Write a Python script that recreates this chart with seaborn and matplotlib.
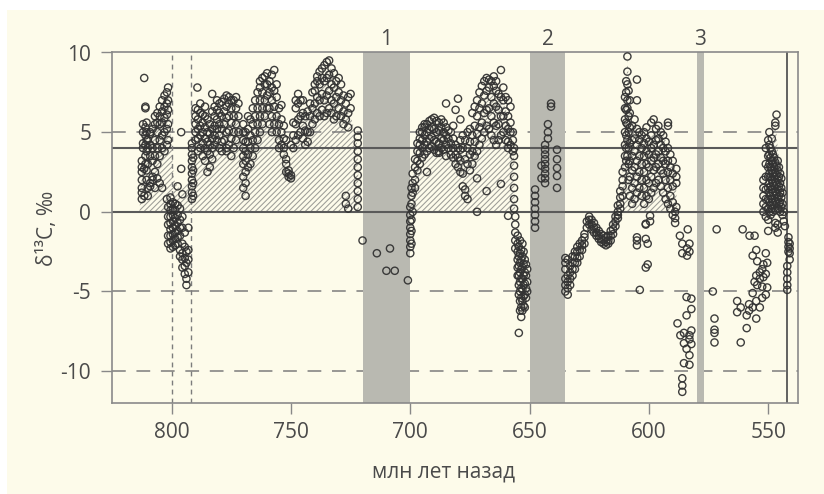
import numpy as np
import pandas as pd
import matplotlib
matplotlib.use("Agg")
import matplotlib.pyplot as plt
import matplotlib.transforms as mtransforms
from matplotlib.patches import Rectangle
import seaborn as sns

# d13C (permil), grouped as (age in Myr ago, [values])
seg_812_801 = [
    (812.5, [0.8, 1.2, 1.5, 2.0, 2.5, 2.8, 3.2]),
    (812.0, [4.0, 4.3, 5.0, 5.5]),
    (811.5, [8.4, 2.7, 1.0]),
    (811.0, [3.0, 3.5, 4.2, 4.8, 5.3, 6.5, 6.6]),
    (810.5, [2.0, 2.6, 3.8, 4.5, 5.0, 5.6]),
    (810.0, [1.0, 1.5, 3.0, 4.0, 4.5]),
    (809.0, [1.6, 1.8, 3.5, 4.2, 4.9, 5.0]),
    (808.0, [2.0, 2.2, 3.2, 4.0, 5.2]),
    (807.0, [1.5, 2.5, 3.5, 4.5, 5.5, 6.0]),
    (806.0, [2.1, 3.0, 4.0, 5.0, 5.6, 6.2]),
    (805.0, [1.8, 3.5, 4.5, 5.5, 6.0, 6.6]),
    (804.0, [1.5, 4.0, 4.8, 5.6, 6.3, 7.0]),
    (803.0, [3.8, 5.0, 5.9, 6.6, 7.3]),
    (802.0, [0.8, 4.2, 5.2, 6.1, 6.8, 7.5]),
    (801.5, [4.5, 5.5, 6.4, 7.0, 7.8]),
]
seg_801_791 = [
    (801.5, [0.3, -0.3, -0.8, -1.5, -2.0]),
    (800.5, [0.9, 0.5, 0.1, -0.3, -0.7, -1.1, -1.5, -1.9, -2.3]),
    (799.5, [0.6, 0.2, -0.2, -0.6, -1.0, -1.4, -1.8, -2.2]),
    (798.5, [0.5, 0.1, -0.4, -0.9, -1.3, -1.7, -2.1]),
    (797.5, [0.4, -0.2, -0.7, -1.2, -1.6, -2.0, 1.6]),
    (796.5, [0.2, -0.5, -1.0, -1.5, -2.4, -2.8]),
    (796.0, [5.0, 2.7]),
    (795.5, [1.1, -0.3, -1.0, -2.0, -2.6, -3.0, -3.5]),
    (794.5, [-1.3, -2.2, -2.9, -3.4, -3.9]),
    (793.8, [-2.5, -3.2, -4.2, -4.6]),
    (793.0, [-1.0, -2.4, -3.0, -3.8]),
    (791.5, [0.8, 1.2, 1.6, 2.0, 2.4, 2.8, 3.2, 3.6, 4.0, 4.3]),
    (791.0, [1.0, 1.8, 2.6, 3.4]),
]
seg_790_760 = [
    (790.0, [4.5, 5.0, 5.5, 6.0, 6.5]),
    (789.2, [7.8]),
    (789.0, [3.8, 4.6, 5.2, 5.8, 6.4]),
    (788.0, [4.0, 4.8, 5.4, 6.2, 6.8]),
    (787.0, [3.5, 4.3, 5.0, 5.6, 6.1]),
    (786.0, [3.2, 4.0, 4.6, 5.3, 6.0, 6.6]),
    (785.0, [2.5, 3.8, 4.4, 5.0, 5.8]),
    (784.0, [2.8, 3.6, 4.2, 4.9, 5.5]),
    (783.0, [3.3, 4.0, 4.6, 5.2, 6.3, 7.4]),
    (782.0, [4.2, 4.8, 5.4, 6.0, 6.6]),
    (781.0, [4.5, 5.2, 5.8, 6.4, 7.0]),
    (780.0, [4.0, 4.8, 5.5, 6.2, 6.8]),
    (779.0, [3.8, 4.4, 5.2, 6.0, 6.9]),
    (778.0, [4.5, 5.5, 6.3, 7.1]),
    (777.0, [3.8, 4.0, 5.0, 5.9, 6.6, 7.3]),
    (776.0, [4.2, 5.1, 6.0, 6.8, 7.2]),
    (775.0, [3.5, 4.6, 5.6, 6.5, 7.0]),
    (774.0, [4.0, 5.0, 6.0, 7.0]),
    (773.0, [4.5, 5.5, 6.5, 7.2]),
    (772.0, [5.0, 6.0, 6.8]),
    (770.0, [1.5, 2.2, 3.0, 3.5, 4.0, 4.5, 5.0, 5.5]),
    (769.0, [1.0, 1.8, 2.5, 3.2, 3.8, 4.4, 5.0]),
    (768.0, [2.8, 3.6, 4.4, 5.2, 6.0]),
    (767.0, [3.0, 4.0, 4.8, 5.8]),
    (766.0, [3.5, 4.5, 5.5, 6.5]),
    (765.0, [4.0, 5.0, 6.0, 7.0]),
    (764.0, [4.5, 5.5, 6.5, 7.5]),
    (763.0, [5.0, 6.0, 7.0, 7.8, 8.2]),
    (762.0, [5.5, 6.5, 7.5, 8.4]),
    (761.0, [6.0, 7.0, 8.0, 8.5]),
    (760.0, [6.5, 7.3, 8.0, 8.7]),
]
seg_760_722 = [
    (759.0, [5.5, 6.5, 7.5, 8.2]),
    (758.0, [5.0, 6.0, 7.0, 7.8, 8.6]),
    (757.0, [5.5, 6.6, 7.6, 8.9]),
    (756.0, [5.0, 6.0, 7.2, 8.0]),
    (755.0, [4.0, 4.5, 5.5, 6.5]),
    (754.0, [4.2, 5.0, 5.8, 6.7]),
    (753.0, [3.6, 4.0, 4.6, 5.4]),
    (752.0, [2.5, 3.0, 3.3, 4.5]),
    (751.0, [2.2, 2.4, 2.6]),
    (750.0, [2.1, 2.3, 4.2]),
    (749.0, [4.0, 4.8, 5.6]),
    (748.0, [4.5, 5.5, 6.5, 7.0]),
    (747.0, [4.8, 5.8, 6.8, 7.4]),
    (746.0, [5.0, 6.0, 7.0]),
    (745.0, [4.6, 5.4, 6.2, 7.0]),
    (744.0, [4.2, 5.1, 6.0]),
    (743.0, [4.4, 5.0, 6.3]),
    (742.0, [5.0, 6.0, 6.8]),
    (741.0, [5.5, 6.5, 7.5]),
    (740.0, [5.8, 6.8, 7.6, 8.0]),
    (739.0, [6.2, 7.2, 8.2, 8.5]),
    (738.0, [6.0, 7.0, 8.0, 8.8]),
    (737.0, [6.4, 7.4, 8.4, 9.0]),
    (736.0, [6.0, 7.0, 8.2, 9.2]),
    (735.0, [6.2, 7.3, 8.4, 9.4]),
    (734.0, [6.5, 7.6, 8.6, 9.5]),
    (733.0, [6.2, 7.0, 8.0, 9.0]),
    (732.0, [5.8, 6.8, 7.8, 8.7]),
    (731.0, [6.0, 7.2, 8.2]),
    (730.0, [6.5, 7.5, 8.4]),
    (729.0, [6.0, 7.0, 8.0]),
    (728.0, [5.5, 6.3, 7.3]),
    (727.0, [0.5, 1.0, 5.8, 6.8]),
    (726.0, [0.2, 5.3, 6.2, 7.2]),
    (725.0, [6.5, 7.4]),
    (722.0, [0.3, 0.8, 1.3, 1.8, 2.3, 2.8, 3.3, 3.8, 4.3, 4.7, 5.1]),
]
seg_glacial_1 = [
    (720.0, [-1.8]), (714.0, [-2.6]), (708.5, [-2.3]),
    (710.0, [-3.7]), (706.5, [-3.7]), (701.0, [-4.3]),
]
seg_700_651 = [
    (700.0, [0.3, -0.2, -0.6, -1.0, -1.4, -1.8, -2.2, -2.6]),
    (699.5, [0.5, 1.0, 1.5, -0.5, -1.2, -2.0]),
    (699.0, [0.0, 1.2, 1.8, 2.4]),
    (698.0, [1.5, 2.0, 2.8, 3.3]),
    (697.0, [2.6, 3.2, 3.8, 4.3]),
    (696.0, [3.0, 3.7, 4.2, 4.6, 5.0]),
    (695.0, [3.4, 4.0, 4.5, 5.0, 5.3]),
    (694.0, [3.6, 4.2, 4.8, 5.3, 5.5]),
    (693.0, [2.5, 3.8, 4.4, 5.0, 5.5]),
    (692.0, [4.0, 4.6, 5.2, 5.7]),
    (691.0, [4.1, 4.7, 5.3, 5.8]),
    (690.0, [3.9, 4.5, 5.2, 5.9]),
    (689.0, [3.7, 4.4, 5.0, 5.7]),
    (688.0, [3.7, 3.8, 4.3, 5.1, 5.6]),
    (687.0, [4.0, 4.6, 5.3, 5.8]),
    (686.0, [3.9, 4.5, 5.0, 5.6]),
    (685.0, [3.5, 4.2, 4.8, 5.3, 6.8]),
    (684.0, [4.0, 4.6, 5.1]),
    (683.0, [3.6, 4.3, 5.0]),
    (682.0, [3.4, 4.0, 4.6, 5.4]),
    (681.0, [3.0, 3.6, 4.2, 6.4]),
    (680.0, [2.8, 3.4, 4.0, 7.1]),
    (679.0, [2.5, 3.2, 3.9, 4.5, 5.8]),
    (678.0, [1.6, 2.4, 4.0, 4.8]),
    (677.0, [1.0, 1.4, 3.3, 4.5]),
    (676.0, [0.8, 3.0, 4.0, 5.0]),
    (675.0, [2.6, 3.6, 4.4, 5.2]),
    (674.0, [3.0, 3.8, 4.8, 6.2]),
    (673.0, [3.5, 4.4, 5.4, 6.6]),
    (672.0, [0.0, 2.1, 3.8, 4.9, 6.0, 7.0]),
    (671.0, [4.2, 5.3, 6.5, 7.5]),
    (670.0, [4.6, 5.6, 6.8, 7.9]),
    (669.0, [5.0, 6.2, 7.3, 8.2]),
    (668.0, [1.3, 5.4, 6.4, 7.6, 8.4]),
    (667.0, [5.2, 6.5, 7.8, 8.3]),
    (666.0, [4.8, 6.0, 7.2, 8.2]),
    (665.0, [4.5, 5.6, 6.8, 7.9, 8.5]),
    (664.0, [4.2, 5.4, 6.6, 7.6, 8.2]),
    (663.0, [4.5, 5.5, 6.4, 7.4]),
    (662.0, [1.75, 4.8, 6.0, 7.2, 8.9]),
    (661.0, [5.0, 6.0, 7.0, 7.8]),
    (660.0, [4.5, 5.4, 6.3, 7.2]),
    (659.0, [-0.25, 4.0, 4.4, 5.2, 6.0, 7.0]),
    (658.0, [4.2, 5.0, 5.6, 6.6]),
    (657.0, [3.8, 4.5, 5.0]),
    (656.5, [0.2, 0.8, 1.5, 2.2, 2.9, 3.5, 4.0]),
    (656.0, [-0.3, -0.8, -1.3, -1.8, -2.3]),
    (655.0, [-1.5, -2.0, -2.5, -3.0, -3.5, -4.0]),
    (654.5, [-2.2, -2.8, -3.4, -4.0, -4.6, -5.2, -7.6]),
    (654.0, [-1.8, -2.6, -3.2, -3.8, -4.4, -5.0, -5.6, -6.2]),
    (653.5, [-2.4, -3.0, -3.6, -4.2, -4.8, -5.4, -6.0, -6.6]),
    (653.0, [-2.0, -2.8, -3.5, -4.2, -4.9, -5.6, -6.2]),
    (652.5, [-2.5, -3.3, -4.0, -4.6, -5.3, -5.9]),
    (652.0, [-3.0, -3.8, -4.5, -5.2, -6.0]),
    (651.5, [-3.3, -4.0, -4.8, -5.4]),
    (651.0, [-3.6, -4.4, -5.0]),
]
seg_glacial_2 = [
    (647.7, [1.4, 1.0, 0.6, 0.2, -0.2, -0.6, -1.0]),
    (645.0, [2.9, 2.1]),
    (643.5, [4.2, 3.9, 3.6, 3.3, 3.0, 2.7, 2.4, 2.1, 1.8]),
    (642.3, [5.5, 5.0, 4.6]),
    (641.0, [6.8, 6.6]),
    (638.5, [3.9, 3.3, 2.75, 2.25, 1.5]),
]
seg_635_612 = [
    (635.0, [-5.0, -4.6, -4.2, -3.6, -3.2, -2.9]),
    (634.0, [-5.2, -4.8, -4.4, -4.0, -3.0]),
    (633.0, [-4.6, -4.2, -3.8, -3.4]),
    (632.0, [-4.0, -3.6, -3.2, -2.8]),
    (631.0, [-3.6, -3.2, -2.8, -2.5]),
    (630.0, [-3.2, -2.9, -2.5, -2.2]),
    (629.0, [-2.8, -2.4, -2.0]),
    (628.0, [-2.4, -2.1, -1.8]),
    (627.0, [-2.0, -1.6, -1.4]),
    (626.0, [-0.6, -1.0]),
    (625.0, [-0.3, -0.5, -0.8]),
    (624.0, [-0.5, -0.8, -1.1]),
    (623.0, [-0.7, -1.0, -1.3]),
    (622.0, [-1.0, -1.3, -1.5]),
    (621.0, [-1.2, -1.5, -1.7]),
    (620.0, [-1.4, -1.7, -1.9]),
    (619.0, [-1.5, -1.8, -2.0]),
    (618.0, [-1.6, -1.9, -2.1]),
    (617.0, [-1.5, -1.8, -2.0]),
    (616.0, [-1.2, -1.5, -1.8]),
    (615.0, [-0.8, -1.1, -1.4]),
    (614.0, [-0.3, -0.6, -0.9]),
    (613.0, [0.0, 0.4, -0.4, -0.2]),
    (612.0, [0.2, 0.5, 0.9, 1.3]),
]
seg_611_588 = [
    (611.0, [1.0, 1.6, 2.0, 2.5]),
    (610.0, [2.8, 3.5, 4.2, 5.0, 5.8, 6.5, 7.2]),
    (609.5, [3.2, 4.0, 4.8, 5.6, 6.4, 7.5, 8.2]),
    (609.0, [3.5, 4.5, 5.5, 6.5, 7.0, 8.0, 8.8, 9.75]),
    (608.5, [2.0, 3.0, 4.0, 5.0, 6.0, 7.6]),
    (608.0, [1.0, 2.2, 3.2, 4.3, 5.3, 6.2, 7.0]),
    (607.0, [0.5, 1.5, 2.6, 3.5, 4.5, 5.4]),
    (606.0, [0.8, 1.8, 2.8, 3.8, 4.6, 5.8]),
    (605.0, [1.2, 2.2, 3.2, 4.2, 5.2, 7.0, 8.3]),
    (604.0, [1.5, 2.5, 3.5, 4.5, 5.0]),
    (603.0, [1.0, 2.0, 3.0, 4.0, 4.8]),
    (602.0, [0.5, 1.5, 2.5, 3.5, 4.3, 5.0]),
    (601.0, [1.0, 2.0, 3.0, 3.8, 4.6, 5.3]),
    (600.0, [0.8, 1.8, 2.8, 3.6, 4.4]),
    (599.0, [1.2, 2.2, 3.2, 4.0, 4.8, 5.6]),
    (598.0, [1.5, 2.6, 3.4, 4.2, 5.8]),
    (597.0, [1.8, 2.8, 3.6, 4.5, 5.2]),
    (596.0, [2.0, 3.0, 3.8, 4.6, 5.4]),
    (595.0, [1.6, 2.6, 3.4, 4.2, 5.0]),
    (594.0, [1.2, 2.4, 3.2, 4.0, 4.8]),
    (593.0, [0.8, 2.0, 3.0, 3.8, 4.4]),
    (592.0, [0.5, 1.5, 2.5, 3.2, 4.0, 5.4, 5.6]),
    (591.0, [0.2, 1.0, 2.0, 2.8, 3.6]),
    (590.0, [-0.2, 0.6, 1.6, 2.4, 3.2]),
    (588.5, [0.3, 1.8, 2.2, 2.7]),
    # scattered low values between the two maxima
    (605.0, [-1.6, -1.8, -2.1]),
    (603.8, [-4.9]),
    (601.3, [-0.75, -0.8, -1.7, -3.5]),
    (600.5, [-2.0, -3.3]),
    (599.5, [-0.25, -0.6]),
    (589.0, [0.0, -0.4, -0.7]),
    (587.0, [-1.5]),
    (586.0, [-2.0, -2.6]),
    (584.0, [-2.3, -2.75]),
    (583.7, [-1.1]),
    (583.0, [-2.0, -2.5]),
]
seg_588_581 = [
    (588.0, [-7.0]),
    (586.8, [-7.75]),
    (586.0, [-10.45, -10.9, -11.3]),
    (585.3, [-7.6, -8.25, -9.5]),
    (584.2, [-5.35, -6.5, -8.6]),
    (583.0, [-7.75, -8.0, -9.0, -9.6]),
    (582.2, [-5.45, -6.1, -7.45, -8.3]),
]
seg_575_550 = [
    (573.2, [-5.0]),
    (572.5, [-6.7, -7.4, -7.6, -8.2]),
    (571.6, [-1.1]),
    (563.0, [-5.6, -6.3]),
    (561.5, [-6.0, -8.2]),
    (560.7, [-1.1]),
    (559.0, [-6.5, -7.3]),
    (558.0, [-5.8, -6.2]),
    (557.8, [-1.5]),
    (556.5, [-2.75, -5.1, -6.0]),
    (555.7, [-1.5, -4.4]),
    (555.0, [-2.4, -4.0, -5.6, -6.7]),
    (554.6, [-3.1, -4.6]),
    (553.5, [-3.8, -4.2, -6.0]),
    (552.5, [-3.6, -4.7, -5.4]),
    (552.0, [-3.3, -4.1]),
    (551.0, [-2.6, -3.9, -5.2]),
    (550.4, [-3.2, -4.75]),
]
seg_552_540 = [
    (552.0, [0.0, 0.5, 1.0, 1.5, 2.0]),
    (551.0, [-0.3, 0.3, 0.8, 1.4, 2.2, 3.0, 4.0]),
    (550.0, [-1.2, -0.5, 0.2, 0.8, 1.5, 2.2, 2.8, 3.5, 4.5]),
    (549.5, [0.0, 0.6, 1.2, 1.8, 2.4, 3.0, 3.6, 4.2, 5.0]),
    (549.0, [-0.2, 0.4, 1.0, 1.6, 2.2, 2.8, 3.4, 4.0]),
    (548.5, [0.2, 0.8, 1.4, 2.0, 2.6, 3.2, 3.8, 4.6]),
    (548.0, [0.0, 0.6, 1.2, 1.8, 2.4, 3.0, 3.6]),
    (547.5, [0.4, 1.0, 1.6, 2.2, 2.8, 3.4]),
    (547.0, [-1.0, -0.7, 0.1, 0.7, 1.3, 1.9, 2.5, 3.1, 5.4, 5.6]),
    (546.5, [0.5, 1.1, 1.7, 2.3, 2.9, 6.1]),
    (546.0, [-1.3, -0.8, 0.2, 0.8, 1.4, 2.0, 2.6, 3.2]),
    (545.5, [0.5, 1.0, 1.6, 2.2, 2.8]),
    (545.0, [0.0, 0.6, 1.2, 1.8, 2.4]),
    (544.5, [0.3, 0.9, 1.5, 2.1]),
    (544.0, [-0.2, 0.5, 1.2]),
    (543.5, [-0.6, 0.0]),
    (543.0, [-0.9]),
    (542.0, [-3.4, -3.8, -4.2, -4.6, -4.9]),
    (541.5, [-1.6, -1.9, -2.2, -2.5]),
    (541.0, [-2.0, -2.3, -2.6, -3.0]),
]

# upper edge of the hatched (positive) areas
hatch_1_age = [813.5, 812.5, 811, 809, 807, 805, 803, 801.5, 800.5, 799, 797, 795,
               793, 792, 790, 788, 785, 782, 779, 776, 773, 770, 768, 765, 762, 759,
               757, 755, 753, 751, 749, 747, 745, 742, 739, 736, 734, 732, 730, 727,
               725, 723, 722, 721.5]
hatch_1_top = [0, 2.5, 4.0, 4.5, 5.0, 5.5, 6.5, 7.5, 5.0, 2.0, 1.5, 1.5,
               2.0, 3.5, 5.0, 5.2, 5.0, 5.5, 5.8, 6.0, 6.5, 5.0, 4.0, 5.5, 6.8, 7.6,
               8.0, 6.0, 4.5, 2.5, 4.5, 6.0, 6.2, 6.0, 7.5, 8.5, 9.2, 8.5, 7.5, 6.5,
               6.0, 5.0, 4.0, 0]
hatch_2_age = [700.5, 699.5, 698, 696, 694, 692, 690, 688, 686, 684, 682, 680, 678,
               676, 674, 672, 670, 668, 666, 664, 662, 660, 658, 656.5, 656]
hatch_2_top = [0, 1.5, 2.8, 3.8, 4.5, 5.0, 5.2, 5.2, 5.3, 5.0, 4.6, 4.0, 3.5,
               3.8, 4.8, 5.5, 6.5, 7.5, 7.8, 7.6, 7.0, 6.5, 5.0, 3.5, 0]
hatch_3_age = [612, 611, 610, 609, 608, 607, 605, 603, 601, 599, 597, 595, 593, 591, 589, 588]
hatch_3_top = [0, 2.5, 6.0, 9.6, 7.5, 6.0, 5.0, 4.5, 4.5, 4.8, 5.0, 5.0, 4.5, 3.5, 2.5, 0]
hatch_4_age = [550.5, 549.5, 548, 547, 546, 545, 543.5, 543]
hatch_4_top = [0, 3.5, 5.0, 5.8, 4.0, 3.0, 2.0, 0]

glacial_bands = [(720, 700), (650, 635), (580, 577)]
band_labels = ['1', '2', '3']
dashed_levels = [5, -5, -10]
solid_levels = [0, 4]
dotted_ages = [800, 792]
boundary_age = 542
x_ticks = [800, 750, 700, 650, 600, 550]
y_ticks = [10, 5, 0, -5, -10]

segments = [seg_812_801, seg_801_791, seg_790_760, seg_760_722, seg_glacial_1,
            seg_700_651, seg_glacial_2, seg_635_612, seg_611_588, seg_588_581,
            seg_575_550, seg_552_540]
rows = [(age, v) for seg in segments for age, vals in seg for v in vals]
df = pd.DataFrame(rows, columns=['age', 'd13c'])

sns.set_style("ticks")
plt.rcParams['font.family'] = ['Open Sans', 'DejaVu Sans']
plt.rcParams['hatch.linewidth'] = 0.75

CREAM = '#fdfbea'
BAND = '#b9b9b1'
TEXT = '#4a4a4a'

fig = plt.figure(figsize=(8.24, 4.94), dpi=100)
fig.patch.set_facecolor('white')
fig.patches.append(Rectangle((7 / 824, 0), 1, 1 - 10 / 494, transform=fig.transFigure,
                             facecolor=CREAM, edgecolor='none', zorder=-10))
ax = fig.add_axes([112 / 824, 1 - 403 / 494, 686 / 824, 350.5 / 494])
ax.set_facecolor(CREAM)

# hatched areas under the positive excursions
for ages, tops in [(hatch_1_age, hatch_1_top), (hatch_2_age, hatch_2_top),
                   (hatch_3_age, hatch_3_top), (hatch_4_age, hatch_4_top)]:
    ax.fill_between(ages, 0, tops, facecolor='none', edgecolor='#9c9c96',
                    hatch='//////', linewidth=0, zorder=0.7)

for lvl in dashed_levels:
    ax.axhline(lvl, color='#7c7c7c', lw=1.1, dashes=(9, 7), zorder=0.8)

lab_tr = mtransforms.blended_transform_factory(ax.transData, ax.transAxes)
for (a0, a1), lab in zip(glacial_bands, band_labels):
    ax.axvspan(a0, a1, color=BAND, lw=0, zorder=1)
    ax.text((a0 + a1) / 2, 1.036, lab, transform=lab_tr,
            ha='center', va='center', fontsize=15, color=TEXT)

for lvl in solid_levels:
    ax.axhline(lvl, color='#5a5a5a', lw=1.5, zorder=2)
for a in dotted_ages:
    ax.axvline(a, color='#7c7c7c', lw=1.0, dashes=(3.5, 3), zorder=2)
ax.axvline(boundary_age, color='#555555', lw=1.3, zorder=2)

sns.scatterplot(data=df, x='age', y='d13c', ax=ax, s=27, fc='none', ec='#333333',
                linewidth=1.0, alpha=0.95, zorder=3, legend=False)

ax.set_xlim(825, 537.5)
ax.set_ylim(-12, 10)
ax.set_xticks(x_ticks)
ax.set_xticklabels([str(t) for t in x_ticks])
ax.set_yticks(y_ticks)
ax.set_yticklabels([str(t) for t in y_ticks])
ax.set_xlabel('')
ax.set_ylabel('')
ax.tick_params(axis='both', length=8, width=1, color='#888888', labelsize=15,
               labelcolor=TEXT)
ax.tick_params(axis='y', pad=7)
ax.tick_params(axis='x', pad=6)
for sp in ax.spines.values():
    sp.set_color('#8a8a8a')
    sp.set_linewidth(1.2)

fig.text(443 / 824, 1 - 472 / 494, 'млн лет назад', ha='center', va='center',
         fontsize=15, color=TEXT)
fig.text(47 / 824, 1 - 228 / 494, 'δ¹³C, ‰', ha='center', va='center',
         rotation=90, fontsize=15, color=TEXT)

fig.savefig('out.png', dpi=100, facecolor=fig.get_facecolor())
